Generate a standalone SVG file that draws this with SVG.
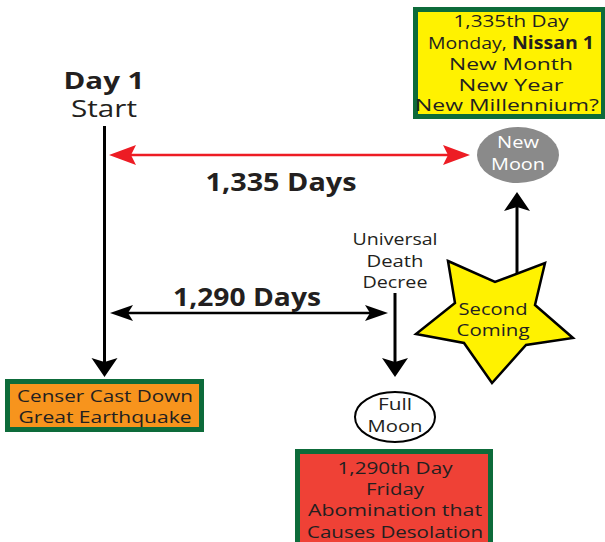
<svg xmlns="http://www.w3.org/2000/svg" width="605" height="542" viewBox="0 0 605 542">
<style>
.t{font-family:"Open Sans","Noto Sans",sans-serif;fill:#231f20;text-anchor:middle}
.b{font-weight:bold}
.w{fill:#fff}
.box{stroke:#0d6b3a;stroke-width:5}
.ln{stroke:#000;stroke-width:3;fill:none}
.hl{stroke:#000;stroke-width:2.5;fill:none}
.rl{stroke:#ed1c24;stroke-width:2.5;fill:none}
</style>
<defs>
<marker id="aV" markerUnits="userSpaceOnUse" orient="auto-start-reverse" markerWidth="40" markerHeight="40" refX="0" refY="0" overflow="visible"><path d="M10,0 L-9,-13 L-5,0 L-9,13 Z" fill="#000"/></marker>
<marker id="aH" markerUnits="userSpaceOnUse" orient="auto-start-reverse" markerWidth="40" markerHeight="40" refX="0" refY="0" overflow="visible"><path d="M10,0 L-13,-8 L-8,0 L-13,8 Z" fill="#000"/></marker>
<marker id="aR" markerUnits="userSpaceOnUse" orient="auto-start-reverse" markerWidth="40" markerHeight="40" refX="0" refY="0" overflow="visible"><path d="M12,0 L-15,-10 L-10,0 L-15,10 Z" fill="#ed1c24"/></marker>
</defs>
<rect width="605" height="542" fill="#fff"/>
<g id="connectors">
<line class="ln" x1="104.5" y1="126" x2="104.5" y2="367" marker-end="url(#aV)"/>
<line class="rl" x1="121" y1="155" x2="458" y2="155" marker-start="url(#aR)" marker-end="url(#aR)"/>
<line class="hl" x1="120" y1="313" x2="378" y2="313" marker-start="url(#aH)" marker-end="url(#aH)"/>
<line class="ln" x1="395" y1="293" x2="395" y2="367" marker-end="url(#aV)"/>
<line class="ln" x1="517" y1="274" x2="517" y2="202" marker-end="url(#aV)"/>
<text class="t b" x="281" y="191" font-size="25" textLength="151" lengthAdjust="spacingAndGlyphs">1,335 Days</text>
<text class="t b" x="247" y="306" font-size="25" textLength="148" lengthAdjust="spacingAndGlyphs">1,290 Days</text>
</g>
<g id="start">
<text class="t b" x="104" y="89" font-size="24" textLength="81" lengthAdjust="spacingAndGlyphs">Day 1</text>
<text class="t" x="104" y="117" font-size="24" textLength="66" lengthAdjust="spacingAndGlyphs">Start</text>
</g>
<g id="day1335">
<rect class="box" x="415.5" y="9.5" width="188" height="107" fill="#fff200"/>
<text class="t" x="511" y="27" font-size="17" textLength="115" lengthAdjust="spacingAndGlyphs">1,335th Day</text>
<text class="t" x="511" y="49" font-size="17" textLength="166" lengthAdjust="spacingAndGlyphs">Monday, <tspan class="b">Nissan 1</tspan></text>
<text class="t" x="511" y="70" font-size="17" textLength="124" lengthAdjust="spacingAndGlyphs">New Month</text>
<text class="t" x="511" y="91" font-size="17" textLength="105" lengthAdjust="spacingAndGlyphs">New Year</text>
<text class="t" x="507" y="111" font-size="17" textLength="184" lengthAdjust="spacingAndGlyphs">New Millennium?</text>
</g>
<g id="newmoon">
<ellipse cx="518" cy="155" rx="41" ry="28" fill="#8a8a8a"/>
<text class="t w" x="518" y="148" font-size="17" textLength="42" lengthAdjust="spacingAndGlyphs">New</text>
<text class="t w" x="518" y="170" font-size="17" textLength="54" lengthAdjust="spacingAndGlyphs">Moon</text>
</g>
<g id="decree">
<text class="t" x="395" y="245" font-size="17" textLength="85" lengthAdjust="spacingAndGlyphs">Universal</text>
<text class="t" x="395" y="267" font-size="17" textLength="57" lengthAdjust="spacingAndGlyphs">Death</text>
<text class="t" x="395" y="288" font-size="17" textLength="65" lengthAdjust="spacingAndGlyphs">Decree</text>
</g>
<g id="secondcoming">
<polygon points="448,261 495,282 545,263 535,305 573,338 526,345 492,383 464,343 416,334 455,303" fill="#fff200" stroke="#000" stroke-width="2.5" stroke-linejoin="miter"/>
<text class="t" x="493" y="315" font-size="17" textLength="69" lengthAdjust="spacingAndGlyphs">Second</text>
<text class="t" x="493" y="336" font-size="17" textLength="73" lengthAdjust="spacingAndGlyphs">Coming</text>
</g>
<g id="censer">
<rect class="box" x="7.5" y="381.5" width="194" height="48" fill="#f7941d"/>
<text class="t" x="105" y="402" font-size="17" textLength="176" lengthAdjust="spacingAndGlyphs">Censer Cast Down</text>
<text class="t" x="105" y="423" font-size="17" textLength="173" lengthAdjust="spacingAndGlyphs">Great Earthquake</text>
</g>
<g id="fullmoon">
<ellipse cx="395" cy="417" rx="40" ry="25" fill="#fff" stroke="#000" stroke-width="2"/>
<text class="t" x="395" y="410" font-size="17" textLength="34" lengthAdjust="spacingAndGlyphs">Full</text>
<text class="t" x="395" y="432" font-size="17" textLength="55" lengthAdjust="spacingAndGlyphs">Moon</text>
</g>
<g id="day1290">
<rect class="box" x="297.5" y="451.5" width="193" height="95" fill="#ef4136"/>
<text class="t" x="395" y="474" font-size="17" textLength="115" lengthAdjust="spacingAndGlyphs">1,290th Day</text>
<text class="t" x="395" y="495" font-size="17" textLength="58" lengthAdjust="spacingAndGlyphs">Friday</text>
<text class="t" x="395" y="516" font-size="17" textLength="174" lengthAdjust="spacingAndGlyphs">Abomination that</text>
<text class="t" x="395" y="538" font-size="17" textLength="176" lengthAdjust="spacingAndGlyphs">Causes Desolation</text>
</g>
</svg>
